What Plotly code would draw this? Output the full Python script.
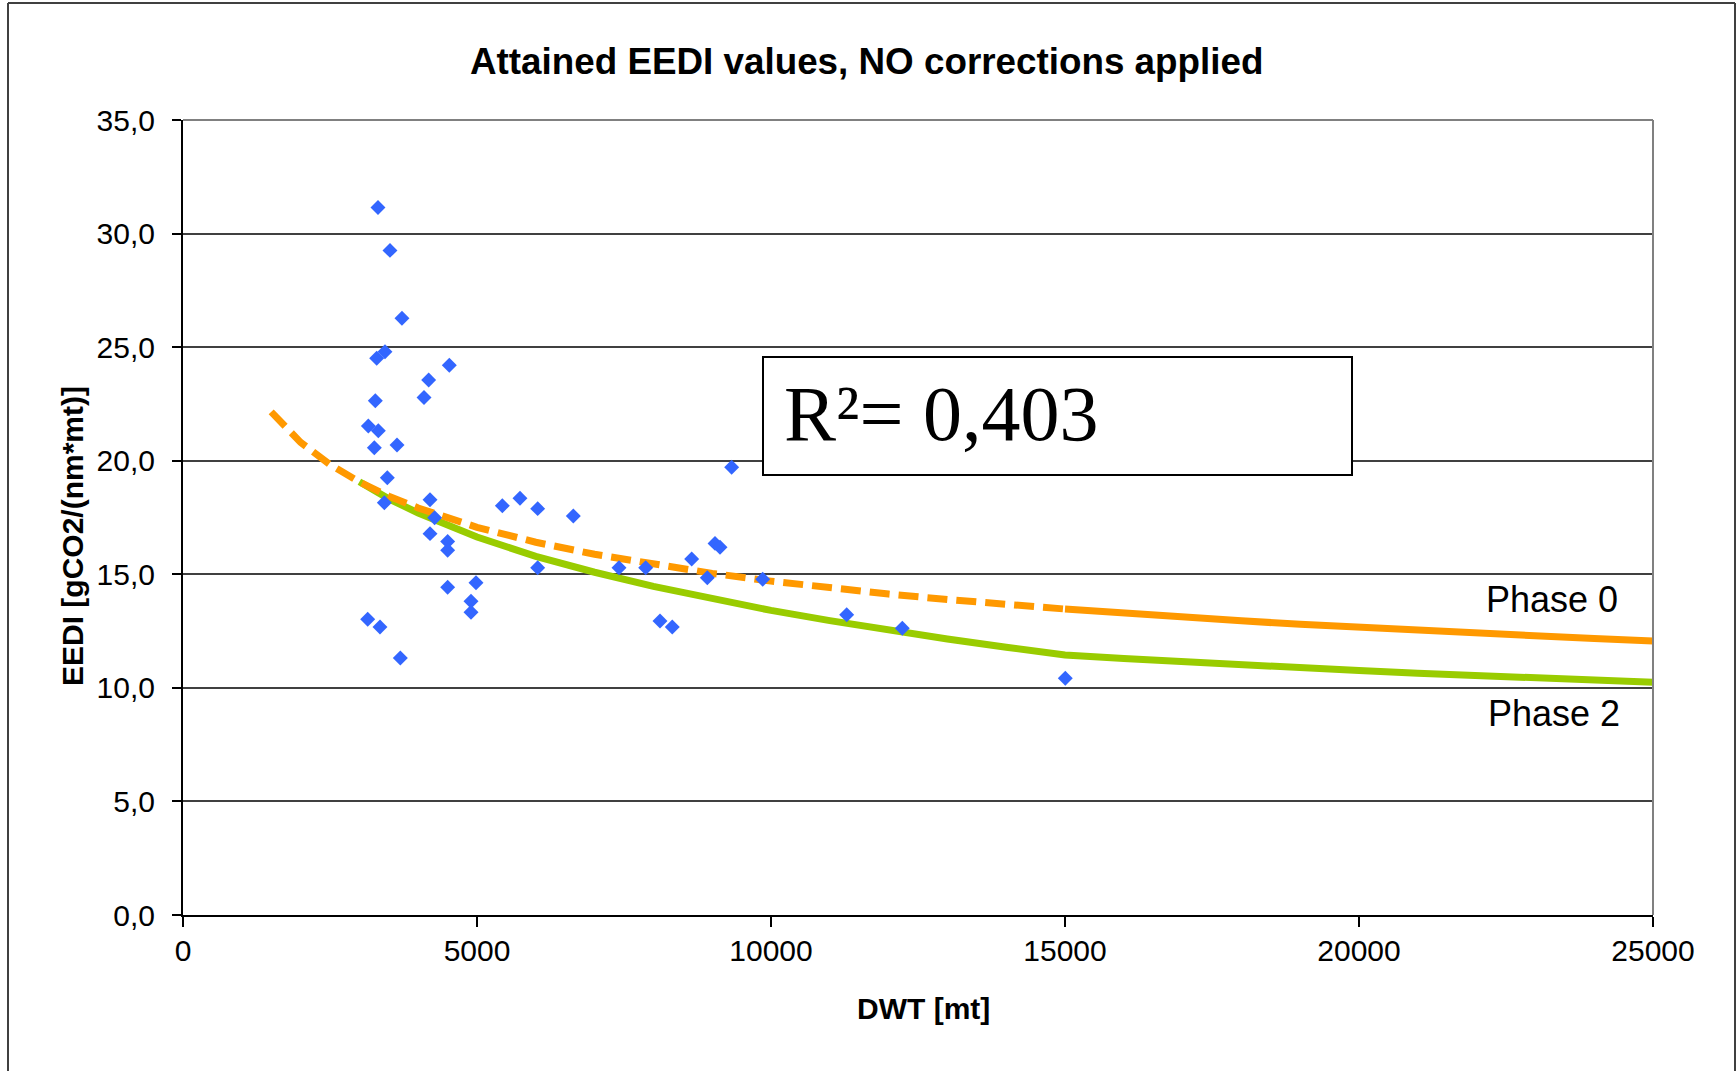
import plotly.graph_objects as go

# ---------------- data ----------------
dwt_points = [3316, 3520, 3724, 3435, 3294, 4529, 4178, 4099, 3271, 3152,
              3322, 3254, 3640, 3475, 3424, 4201, 4280, 4201, 4501, 4501,
              5431, 5731, 6032, 6638, 6032, 7415, 7869, 8651, 8917, 9048,
              9133, 9331, 9859, 4501, 4983, 4898, 4898, 3141, 3350, 3696,
              8112, 8321, 11287, 12233, 15005]
eedi_points = [31.15, 29.26, 26.27, 24.80, 24.51, 24.20, 23.55, 22.78, 22.64, 21.53,
               21.32, 20.57, 20.69, 19.25, 18.15, 18.28, 17.49, 16.79, 16.44, 16.06,
               18.02, 18.35, 17.89, 17.57, 15.29, 15.29, 15.29, 15.67, 14.85, 16.36,
               16.19, 19.71, 14.78, 14.43, 14.63, 13.81, 13.33, 13.02, 12.68, 11.31,
               12.94, 12.68, 13.22, 12.62, 10.42]

phase0_dash_dwt = [1500, 2000, 2500, 3000, 3500, 4000, 5000, 6000, 7000, 8000,
                   9000, 10000, 11000, 12000, 13000, 14000, 15000]
phase0_dash_eedi = [22.15, 20.81, 19.83, 19.07, 18.44, 17.92, 17.07, 16.41, 15.88, 15.43,
                    15.04, 14.70, 14.40, 14.13, 13.89, 13.67, 13.47]
phase0_solid_dwt = [15000, 16000, 17000, 18000, 19000, 20000, 21000, 22000, 23000, 24000, 25000]
phase0_solid_eedi = [13.47, 13.28, 13.11, 12.95, 12.80, 12.66, 12.52, 12.40, 12.28, 12.17, 12.06]

phase2_dwt = [3000, 3500, 4000, 5000, 6000, 7000, 8000, 9000, 10000, 11000, 12000,
              13000, 14000, 15000, 16000, 17000, 18000, 19000, 20000, 21000, 22000,
              23000, 24000, 25000]
phase2_eedi = [19.07, 18.32, 17.70, 16.64, 15.79, 15.09, 14.47, 13.91, 13.41, 12.96, 12.54,
               12.15, 11.79, 11.45, 11.29, 11.14, 11.01, 10.88, 10.76, 10.64, 10.54,
               10.44, 10.34, 10.25]

x_tickvals = [0, 5000, 10000, 15000, 20000, 25000]
x_ticktext = ["0", "5000", "10000", "15000", "20000", "25000"]
y_tickvals = [0, 5, 10, 15, 20, 25, 30, 35]
y_ticktext = ["0,0", "5,0", "10,0", "15,0", "20,0", "25,0", "30,0", "35,0"]

title_text = "Attained EEDI values, NO corrections applied"
x_title = "DWT [mt]"
y_title = "EEDI [gCO2/(nm*mt)]"
r2_text = "R²= 0,403"
phase_labels = ["Phase 0", "Phase 2"]

# ---------------- geometry ----------------
W, H = 1736, 1071
L, R, T, B = 183, 1653, 120, 915
PW, PH = R - L, B - T


def px(xp):
    return (xp - L) / PW


def py(yp):
    return (B - yp) / PH


SANS = "Liberation Sans, Arial, sans-serif"
SERIF = "Liberation Serif, Times New Roman, serif"
ORANGE = "#FF9900"
GREEN = "#99CC00"
BLUE = "#3366FF"

fig = go.Figure()

fig.add_trace(go.Scatter(x=phase2_dwt, y=phase2_eedi, mode="lines",
                         line=dict(color=GREEN, width=7), hoverinfo="skip",
                         showlegend=False))
fig.add_trace(go.Scatter(x=phase0_dash_dwt, y=phase0_dash_eedi, mode="lines",
                         line=dict(color=ORANGE, width=7, dash="20px,9px"),
                         hoverinfo="skip", showlegend=False))
fig.add_trace(go.Scatter(x=phase0_solid_dwt, y=phase0_solid_eedi, mode="lines",
                         line=dict(color=ORANGE, width=7), hoverinfo="skip",
                         showlegend=False))
fig.add_trace(go.Scatter(x=dwt_points, y=eedi_points, mode="markers",
                         marker=dict(symbol="diamond", size=11.5, color=BLUE,
                                     line=dict(width=0)),
                         showlegend=False))

shapes = [
    # outer chart frame
    dict(type="line", xref="paper", yref="paper", x0=px(8), x1=px(8), y0=py(1100), y1=py(3),
         line=dict(color="#404040", width=2)),
    dict(type="line", xref="paper", yref="paper", x0=px(8), x1=px(1735), y0=py(3), y1=py(3),
         line=dict(color="#404040", width=2)),
    dict(type="line", xref="paper", yref="paper", x0=px(1735), x1=px(1735), y0=py(1100), y1=py(3),
         line=dict(color="#404040", width=2)),
    # plot-area border top/right
    dict(type="line", xref="paper", yref="paper", x0=0, x1=1, y0=1, y1=1,
         line=dict(color="#808080", width=2)),
    dict(type="line", xref="paper", yref="paper", x0=1, x1=1, y0=0, y1=1,
         line=dict(color="#808080", width=2)),
    # R^2 box
    dict(type="rect", xref="paper", yref="paper", x0=px(763), x1=px(1352),
         y0=py(475), y1=py(357), fillcolor="white", line=dict(color="black", width=2),
         layer="above"),
]

annotations = [
    dict(text="<b>" + title_text + "</b>", xref="paper", yref="paper", x=px(866), y=py(61),
         xanchor="center", yanchor="middle", showarrow=False,
         font=dict(family=SANS, size=36.8, color="black")),
    dict(text="<b>" + x_title + "</b>", xref="paper", yref="paper", x=px(923), y=py(1008),
         xanchor="center", yanchor="middle", showarrow=False,
         font=dict(family=SANS, size=30, color="black")),
    dict(text="<b>" + y_title + "</b>", xref="paper", yref="paper", x=px(72), y=py(536),
         xanchor="center", yanchor="middle", showarrow=False, textangle=-90,
         font=dict(family=SANS, size=30, color="black")),
    dict(text=r2_text, xref="paper", yref="paper", x=px(782), y=py(413),
         xanchor="left", yanchor="middle", showarrow=False,
         font=dict(family=SERIF, size=78, color="black")),
    dict(text=phase_labels[0], xref="x", yref="y", x=24440, y=13.91,
         xanchor="right", yanchor="middle", showarrow=False,
         font=dict(family=SANS, size=36, color="black")),
    dict(text=phase_labels[1], xref="x", yref="y", x=24470, y=8.89,
         xanchor="right", yanchor="middle", showarrow=False,
         font=dict(family=SANS, size=36, color="black")),
]

fig.update_layout(
    width=W, height=H,
    margin=dict(l=L, r=W - R, t=T, b=H - B, pad=0),
    paper_bgcolor="white", plot_bgcolor="white",
    shapes=shapes, annotations=annotations,
    showlegend=False,
    font=dict(family=SANS, color="black"),
)

fig.update_xaxes(
    range=[0, 25000], tickvals=x_tickvals, ticktext=x_ticktext,
    showgrid=False, zeroline=False,
    showline=True, linecolor="black", linewidth=2,
    ticks="outside", ticklen=10, tickwidth=1.5, tickcolor="black",
    ticklabelstandoff=-2,
    tickfont=dict(family=SANS, size=30, color="black"),
)
fig.update_yaxes(
    range=[0, 35], tickvals=y_tickvals, ticktext=y_ticktext,
    showgrid=True, gridcolor="#404040", gridwidth=1.5, zeroline=False,
    showline=True, linecolor="black", linewidth=2,
    ticks="outside", ticklen=9, tickwidth=1.5, tickcolor="black",
    ticklabelstandoff=11,
    tickfont=dict(family=SANS, size=30, color="black"),
)

fig.write_html("out.html")
